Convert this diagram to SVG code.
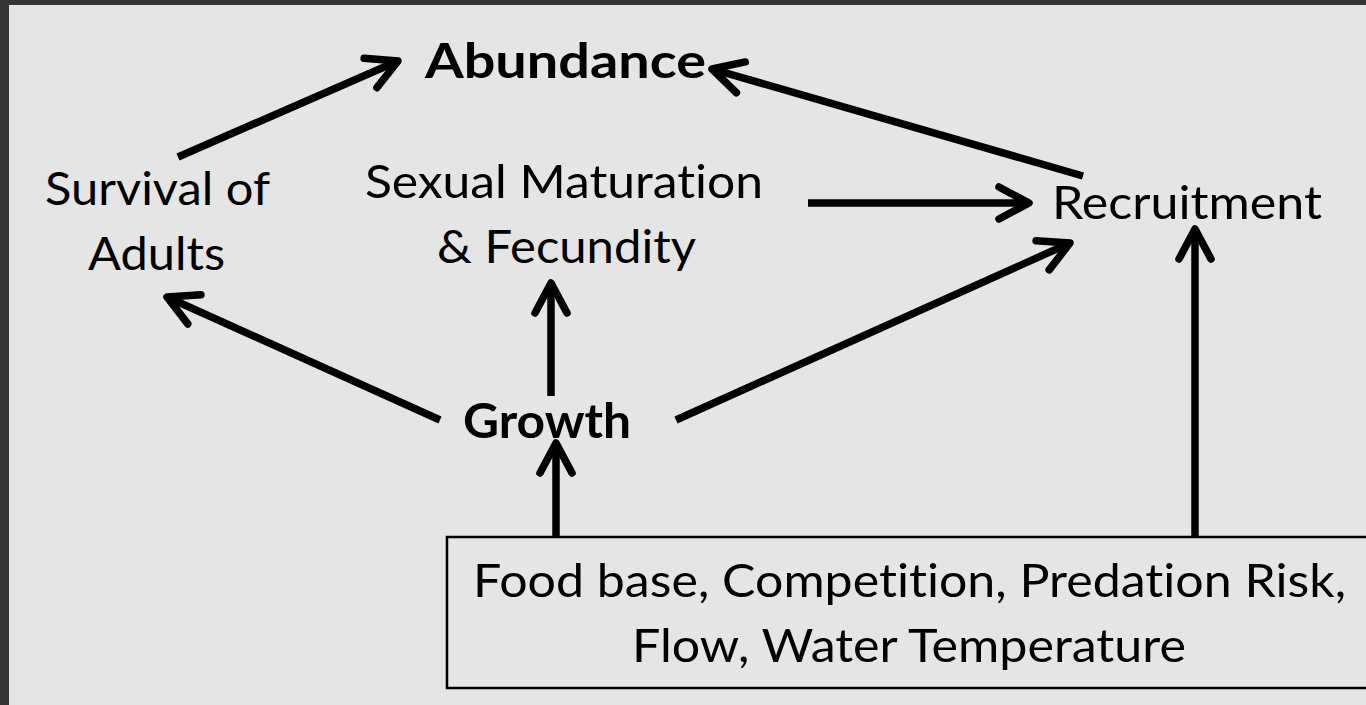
<svg xmlns="http://www.w3.org/2000/svg" width="1366" height="705" viewBox="0 0 1366 705">
<style>
.t{font-family:Lato,"Open Sans","Liberation Sans",sans-serif;font-size:47px;fill:#000;font-variant-ligatures:none;font-feature-settings:"liga" 0,"clig" 0}
.b{font-weight:700;font-size:48px}
.c{stroke:#000;stroke-width:7.5;fill:none;stroke-linecap:butt}
</style>
<defs>
<marker id="ah" markerUnits="userSpaceOnUse" orient="auto" refX="0" refY="0" overflow="visible" markerWidth="40" markerHeight="40">
<path d="M-30,-16 L0,0 L-30,16" fill="none" stroke="#000" stroke-width="7.5" stroke-linecap="round" stroke-linejoin="round"/>
</marker>
</defs>
<rect x="0" y="0" width="1366" height="705" fill="#373533"/>
<rect x="9" y="5" width="1357" height="700" fill="#e5e5e5"/>
<g id="connectors">
<line class="c" x1="178" y1="157" x2="398" y2="61" marker-end="url(#ah)"/>
<line class="c" x1="1083" y1="176" x2="712" y2="69" marker-end="url(#ah)"/>
<line class="c" x1="808" y1="203" x2="1029" y2="203" marker-end="url(#ah)"/>
<line class="c" x1="676" y1="420" x2="1070" y2="243" marker-end="url(#ah)"/>
<line class="c" x1="440" y1="420" x2="167" y2="297" marker-end="url(#ah)"/>
<line class="c" x1="551" y1="396" x2="551" y2="283" marker-end="url(#ah)"/>
<line class="c" x1="556" y1="537" x2="556" y2="443" marker-end="url(#ah)"/>
<line class="c" x1="1195" y1="537" x2="1195" y2="229" marker-end="url(#ah)"/>
</g>
<g id="abundance"><text class="t b" x="425" y="78" textLength="281" lengthAdjust="spacingAndGlyphs">Abundance</text></g>
<g id="survival">
<text class="t" x="45" y="205" textLength="225" lengthAdjust="spacingAndGlyphs">Survival of</text>
<text class="t" x="88" y="270" textLength="137" lengthAdjust="spacingAndGlyphs">Adults</text>
</g>
<g id="maturation">
<text class="t" x="365" y="198" textLength="398" lengthAdjust="spacingAndGlyphs">Sexual Maturation</text>
<text class="t" x="437" y="263" textLength="259" lengthAdjust="spacingAndGlyphs">&amp; Fecundity</text>
</g>
<g id="recruitment"><text class="t" x="1052" y="219" textLength="270" lengthAdjust="spacingAndGlyphs">Recruitment</text></g>
<g id="growth"><text class="t b" x="463" y="438" textLength="168" lengthAdjust="spacingAndGlyphs">Growth</text></g>
<g id="factors">
<rect x="447" y="537" width="940" height="151" fill="none" stroke="#000" stroke-width="2.5"/>
<text class="t" x="473" y="597" textLength="873" lengthAdjust="spacingAndGlyphs">Food base, Competition, Predation Risk,</text>
<text class="t" x="632" y="662" textLength="554" lengthAdjust="spacingAndGlyphs">Flow, Water Temperature</text>
</g>
</svg>
